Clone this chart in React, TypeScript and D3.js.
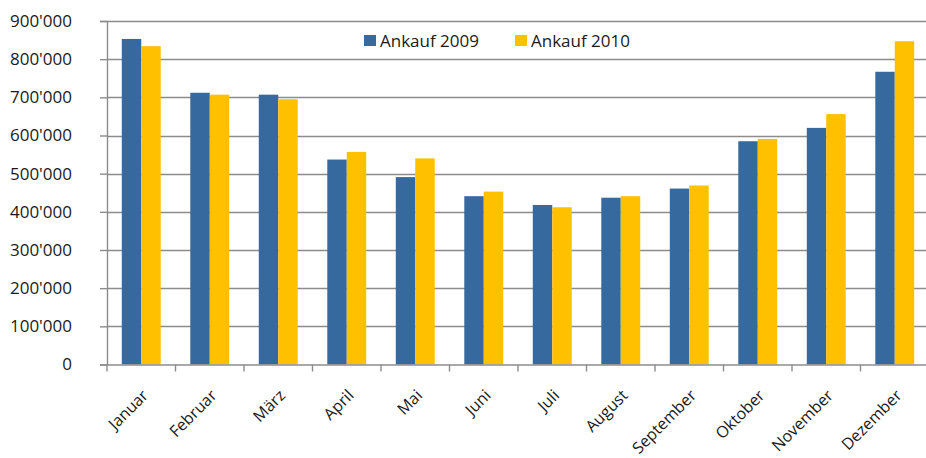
import { useEffect, useRef } from 'react';
import * as d3 from 'd3';

const months = [
  'Januar', 'Februar', 'März', 'April', 'Mai', 'Juni',
  'Juli', 'August', 'September', 'Oktober', 'November', 'Dezember',
];
const ankauf2009 = [853000, 712000, 707000, 537000, 491000, 441000, 418000, 437000, 461000, 585000, 620000, 767000];
const ankauf2010 = [834000, 707000, 695000, 557000, 540000, 453000, 412000, 441000, 469000, 591000, 656000, 847000];
const yTicks = [0, 100000, 200000, 300000, 400000, 500000, 600000, 700000, 800000, 900000];
const seriesNames = ['Ankauf 2009', 'Ankauf 2010'];
const colors = ['#366a9f', '#ffc000'];

const W = 926;
const H = 458;
const FONT = '"Open Sans", "Noto Sans", sans-serif';

const fmt = (v: number) => (v === 0 ? '0' : d3.format(',')(v).replace(/,/g, "'"));

export default function App() {
  const svgRef = useRef<SVGSVGElement>(null);

  useEffect(() => {
    if (!svgRef.current) return;
    const svg = d3.select(svgRef.current);
    svg.selectAll('*').remove();

    const left = 107;
    const right = 929;
    const top = 21;
    const bottom = 364.5;

    const x = d3.scaleBand<string>().domain(months).range([left, right]);
    const inner = d3
      .scaleBand<number>()
      .domain([0, 1])
      .range([0, x.bandwidth()])
      .paddingOuter(0.76)
      .paddingInner(0);
    const y = d3.scaleLinear().domain([0, 900000]).range([bottom, top]);

    // gridlines
    svg
      .append('g')
      .selectAll('line')
      .data(yTicks.filter((t) => t > 0))
      .enter()
      .append('line')
      .attr('x1', left)
      .attr('x2', W)
      .attr('y1', (d) => Math.round(y(d)) + 0.5)
      .attr('y2', (d) => Math.round(y(d)) + 0.5)
      .attr('stroke', '#8c8c8c')
      .attr('stroke-width', 1.4);

    // bars
    const series = [ankauf2009, ankauf2010];
    series.forEach((vals, si) => {
      svg
        .append('g')
        .selectAll('rect')
        .data(vals)
        .enter()
        .append('rect')
        .attr('x', (_, i) => (x(months[i]) || 0) + (inner(si) || 0))
        .attr('y', (d) => y(d))
        .attr('width', inner.bandwidth())
        .attr('height', (d) => bottom - y(d))
        .attr('fill', colors[si]);
    });

    // y axis
    const yAxis = svg
      .append('g')
      .attr('transform', `translate(${left},0)`)
      .call(
        d3
          .axisLeft(y)
          .tickValues(yTicks)
          .tickSize(7)
          .tickPadding(28)
          .tickFormat((d) => fmt(d as number)),
      );
    yAxis.select('.domain').attr('stroke', '#8c8c8c').attr('stroke-width', 1.4);
    yAxis.selectAll('.tick line').attr('stroke', '#8c8c8c').attr('stroke-width', 1.4);
    yAxis
      .selectAll('.tick text')
      .attr('fill', '#1a1a1a')
      .style('font-family', FONT)
      .style('font-size', '17px');

    // x axis
    const xAxis = svg
      .append('g')
      .attr('transform', `translate(0,${bottom})`)
      .call(d3.axisBottom(x).tickSize(0).tickFormat(() => ''));
    xAxis.select('.domain').attr('stroke', '#8c8c8c').attr('stroke-width', 1.4);
    xAxis.selectAll('.tick').remove();

    const tickPos = d3.range(months.length + 1).map((i) => left + i * x.step());
    svg
      .append('g')
      .selectAll('line')
      .data(tickPos)
      .enter()
      .append('line')
      .attr('x1', (d) => d)
      .attr('x2', (d) => d)
      .attr('y1', bottom)
      .attr('y2', bottom + 7)
      .attr('stroke', '#8c8c8c')
      .attr('stroke-width', 1.4);

    svg
      .append('g')
      .selectAll('text')
      .data(months)
      .enter()
      .append('text')
      .attr('transform', (d) => `translate(${(x(d) || 0) + x.bandwidth() / 2 + 8},${bottom + 32}) rotate(-45)`)
      .attr('text-anchor', 'end')
      .attr('fill', '#1a1a1a')
      .style('font-family', FONT)
      .style('font-size', '16px')
      .text((d) => d);

    // legend
    const legend = svg.append('g');
    const legendX = [364, 515];
    seriesNames.forEach((name, i) => {
      legend
        .append('rect')
        .attr('x', legendX[i])
        .attr('y', 35)
        .attr('width', 12)
        .attr('height', 11)
        .attr('fill', colors[i]);
      legend
        .append('text')
        .attr('x', legendX[i] + 16)
        .attr('y', 47)
        .attr('fill', '#1a1a1a')
        .style('font-family', FONT)
        .style('font-size', '17px')
        .text(name);
    });
  }, []);

  return (
    <svg
      ref={svgRef}
      width={W}
      height={H}
      style={{ position: 'absolute', left: 0, top: 0, background: '#fff' }}
    />
  );
}
